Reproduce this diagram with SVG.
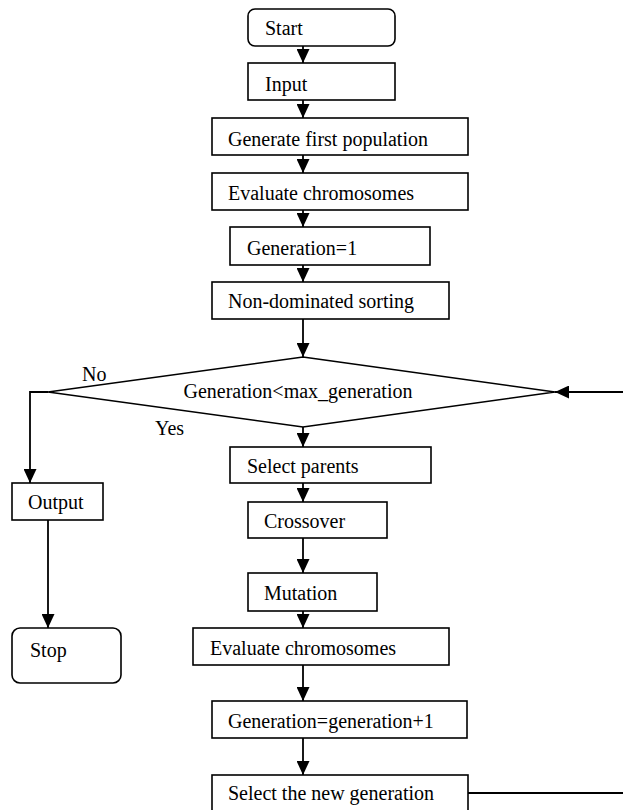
<svg xmlns="http://www.w3.org/2000/svg" width="623" height="810" viewBox="0 0 623 810">
  <style>
    .box { fill: #ffffff; stroke: #000000; stroke-width: 1.6; }
    .lbl { font-family: "Liberation Serif", "Times New Roman", serif; font-size: 20px; fill: #000000; }
    .mid { text-anchor: middle; }
    .wire { fill: none; stroke: #000000; stroke-width: 1.8; }
  </style>
  <defs>
    <marker id="head" viewBox="0 0 14 13" refX="14" refY="6.5" markerWidth="14" markerHeight="13" markerUnits="userSpaceOnUse" orient="auto">
      <path d="M0,0 L14,6.5 L0,13 Z" fill="#000000"/>
    </marker>
  </defs>
  <rect width="623" height="810" fill="#ffffff"/>

  <!-- flow connectors -->
  <g id="connectors">
    <path class="wire" marker-end="url(#head)" d="M303,46 V63"/>
    <path class="wire" marker-end="url(#head)" d="M303,100 V118"/>
    <path class="wire" marker-end="url(#head)" d="M303,155 V173"/>
    <path class="wire" marker-end="url(#head)" d="M303,210 V227"/>
    <path class="wire" marker-end="url(#head)" d="M303,265 V282"/>
    <path class="wire" marker-end="url(#head)" d="M303,319 V357"/>
    <path class="wire" marker-end="url(#head)" d="M303,427 V447"/>
    <path class="wire" marker-end="url(#head)" d="M303,483 V502"/>
    <path class="wire" marker-end="url(#head)" d="M303,538 V573"/>
    <path class="wire" marker-end="url(#head)" d="M303,611 V628"/>
    <path class="wire" marker-end="url(#head)" d="M303,665 V701"/>
    <path class="wire" marker-end="url(#head)" d="M303,738 V775"/>
    <!-- No branch -->
    <path class="wire" marker-end="url(#head)" d="M48,392 H30 V483"/>
    <path class="wire" marker-end="url(#head)" d="M48,520 V628"/>
    <!-- loop back to the test -->
    <path class="wire" marker-end="url(#head)" d="M468,793 H632 V392 H555"/>
  </g>

  <g id="start">
    <rect class="box" x="248" y="9" width="147" height="37" rx="7"/>
    <text class="lbl" x="265" y="35">Start</text>
  </g>
  <g id="input">
    <rect class="box" x="248" y="63" width="147" height="37"/>
    <text class="lbl" x="265" y="91">Input</text>
  </g>
  <g id="generate">
    <rect class="box" x="212" y="118" width="256" height="37"/>
    <text class="lbl" x="228" y="146">Generate first population</text>
  </g>
  <g id="evaluate1">
    <rect class="box" x="212" y="173" width="256" height="37"/>
    <text class="lbl" x="228" y="200">Evaluate chromosomes</text>
  </g>
  <g id="gen-init">
    <rect class="box" x="230" y="227" width="200" height="38"/>
    <text class="lbl" x="247" y="255">Generation=1</text>
  </g>
  <g id="sorting">
    <rect class="box" x="212" y="282" width="237" height="37"/>
    <text class="lbl" x="228" y="308">Non-dominated sorting</text>
  </g>
  <g id="test">
    <polygon class="box" points="303,357 555,392 303,427 48,392"/>
    <text class="lbl mid" x="298" y="398">Generation&lt;max_generation</text>
    <text class="lbl" x="82" y="381">No</text>
    <text class="lbl" x="155" y="435">Yes</text>
  </g>
  <g id="select-parents">
    <rect class="box" x="230" y="447" width="201" height="36"/>
    <text class="lbl" x="247" y="473">Select parents</text>
  </g>
  <g id="crossover">
    <rect class="box" x="248" y="502" width="139" height="36"/>
    <text class="lbl" x="264" y="528">Crossover</text>
  </g>
  <g id="mutation">
    <rect class="box" x="248" y="573" width="129" height="38"/>
    <text class="lbl" x="264" y="600">Mutation</text>
  </g>
  <g id="evaluate2">
    <rect class="box" x="193" y="628" width="256" height="37"/>
    <text class="lbl" x="210" y="655">Evaluate chromosomes</text>
  </g>
  <g id="gen-next">
    <rect class="box" x="212" y="701" width="255" height="37"/>
    <text class="lbl" x="228" y="728">Generation=generation+1</text>
  </g>
  <g id="select-new">
    <rect class="box" x="212" y="775" width="256" height="40"/>
    <text class="lbl" x="228" y="800">Select the new generation</text>
  </g>
  <g id="output">
    <rect class="box" x="12" y="483" width="91" height="37"/>
    <text class="lbl" x="28" y="509">Output</text>
  </g>
  <g id="stop">
    <rect class="box" x="12" y="628" width="109" height="55" rx="8"/>
    <text class="lbl" x="30" y="657">Stop</text>
  </g>
</svg>
